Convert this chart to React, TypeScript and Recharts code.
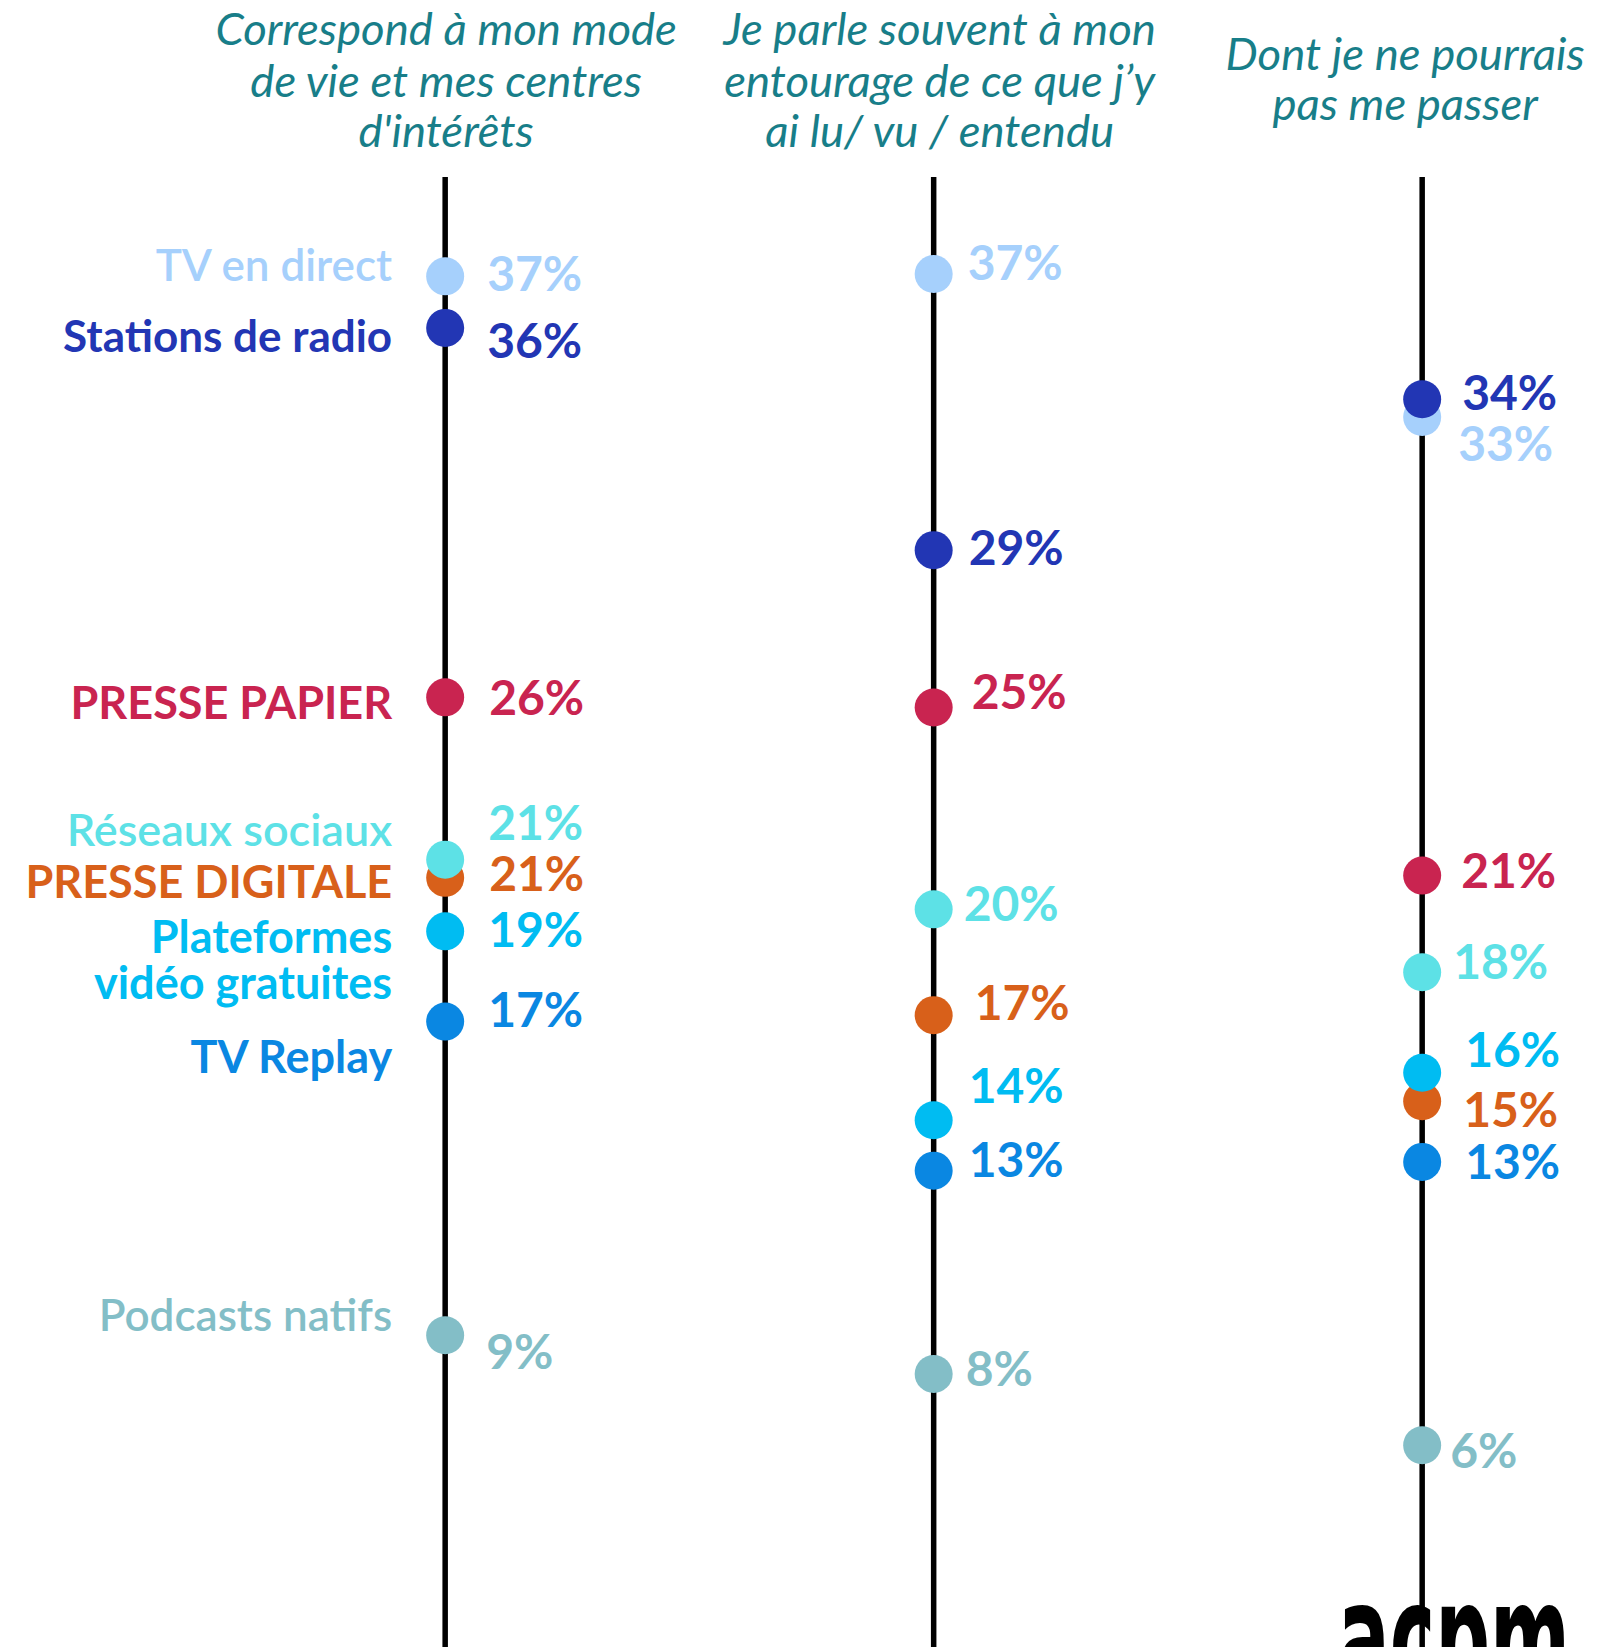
import React from 'react';
import { ScatterChart, Scatter, XAxis, YAxis, ReferenceLine } from 'recharts';

// ---------- DATA ----------
const columnIndex = [0, 1, 2];
const columnTitles = [
  ['Correspond à mon mode', 'de vie et mes centres', "d'intérêts"],
  ['Je parle souvent à mon', 'entourage de ce que j’y', 'ai lu/ vu / entendu'],
  ['Dont je ne pourrais', 'pas me passer'],
];

const media = [
  'TV en direct',
  'Stations de radio',
  'PRESSE PAPIER',
  'PRESSE DIGITALE',
  'Réseaux sociaux',
  'Plateformes vidéo gratuites',
  'TV Replay',
  'Podcasts natifs',
];
const mediaLines = [
  ['TV en direct'],
  ['Stations de radio'],
  ['PRESSE PAPIER'],
  ['PRESSE DIGITALE'],
  ['Réseaux sociaux'],
  ['Plateformes', 'vidéo gratuites'],
  ['TV Replay'],
  ['Podcasts natifs'],
];

// values (%); displayed labels are the rounded figures shown
const valuesCorrespond = [36.94, 35.58, 25.84, 21.08, 21.56, 19.67, 17.29, 9.02];
const valuesJeParle = [37.0, 29.72, 25.57, 17.46, 20.25, 14.69, 13.36, 8.0];
const valuesPasser = [33.23, 33.7, 21.14, 15.19, 18.59, 15.94, 13.59, 6.12];

const labelsCorrespond = ['37%', '36%', '26%', '21%', '21%', '19%', '17%', '9%'];
const labelsJeParle = ['37%', '29%', '25%', '17%', '20%', '14%', '13%', '8%'];
const labelsPasser = ['33%', '34%', '21%', '15%', '18%', '16%', '13%', '6%'];

const columnValues = [valuesCorrespond, valuesJeParle, valuesPasser];
const columnLabels = [labelsCorrespond, labelsJeParle, labelsPasser];

// ---------- STYLE / LAYOUT ----------
const colors = ['#a6d0fc', '#2236b4', '#c92450', '#d8601a', '#5de1e6', '#00bcf2', '#0a87e2', '#83bec7'];
const lighterWeight = [true, false, false, false, true, false, false, true];
const categorySizes = [44, 44, 45, 45, 45, 45, 45, 44];

// per column, per media: [dx, dy] of the percentage label relative to the dot
const labelNudges = [
  [[42, -3], [42, 13], [44, 0], [44, -4], [43, -37], [43, -2], [43, -12], [41, 17]],
  [[34, -11], [35, -2], [38, -16], [41, -12], [30, -6], [35, -34], [35, -11], [32, -5]],
  [[36, 27], [40, -6], [39, -5], [41, 9], [31, -10], [43, -23], [43, 0], [28, 6]],
];
// left category labels (first column): vertical offset of first line relative to the dot
const categoryNudges = [-11, 8, 6, 4, -30, 6, 35, -20];
const categoryGap = 53;
const titleNudges = [1, 6, -17];
const titleBaselines = [
  [45, 97, 147],
  [45, 97, 147],
  [70, 120],
];

const W = 1610;
const H = 1647;
const FONT = 'Lato, "Open Sans", sans-serif';
const PCT_SIZE = 48;

const seriesData = media.map((_, m) =>
  columnIndex.map((c) => ({ x: c, y: columnValues[c][m], label: columnLabels[c][m] }))
);

const makeShape = (m: number) => (props: any) => {
  const { cx, cy, payload } = props;
  if (cx == null || cy == null) return <g />;
  const col = payload.x as number;
  const [dx, dy] = labelNudges[col][m];
  const color = colors[m];
  const cs = categorySizes[m];
  return (
    <g>
      <circle cx={cx} cy={cy} r={19} fill={color} />
      <text
        x={cx + dx}
        y={cy + dy + PCT_SIZE * 0.358}
        fill={color}
        fontSize={PCT_SIZE}
        fontWeight={700}
        fontFamily={FONT}
      >
        {payload.label}
      </text>
      {col === 0 &&
        mediaLines[m].map((line, i) => (
          <text
            key={i}
            x={cx - categoryGap}
            y={cy + categoryNudges[m] + cs * 0.358 + i * 46}
            textAnchor="end"
            fill={color}
            fontSize={cs}
            fontWeight={lighterWeight[m] ? 600 : 700}
            fontFamily={FONT}
          >
            {line}
          </text>
        ))}
    </g>
  );
};

const TitleTick = (props: any) => {
  const { x, payload } = props;
  const c = Math.round(Number(payload?.value));
  const lines = columnTitles[c];
  if (!lines) return <g />;
  return (
    <g>
      {lines.map((line, i) => (
        <text
          key={i}
          x={x + titleNudges[c]}
          y={titleBaselines[c][i]}
          textAnchor="middle"
          fill="#187e89"
          fontSize={45.5}
          fontStyle="italic"
          fontFamily={FONT}
        >
          {line}
        </text>
      ))}
    </g>
  );
};

export default function App() {
  return (
    <div style={{ position: 'absolute', left: 0, top: 0, width: W, height: H, background: '#fff', overflow: 'hidden' }}>
      <svg width={W} height={H} style={{ position: 'absolute', left: 0, top: 0 }}>
        <text
          x={1338}
          y={1692}
          fontFamily='"DejaVu Sans", sans-serif'
          fontWeight={900}
          fontSize={155}
          textLength={232}
          lengthAdjust="spacingAndGlyphs"
          fill="#000"
        >
          acpm
        </text>
      </svg>
      <div style={{ position: 'absolute', left: 0, top: 0 }}>
        <ScatterChart width={W} height={H} margin={{ top: 0, right: 0, bottom: 0, left: 0 }}>
          <XAxis
            type="number"
            dataKey="x"
            orientation="top"
            domain={[-0.9113, 2.3845]}
            allowDataOverflow
            ticks={columnIndex}
            interval={0}
            height={1}
            axisLine={false}
            tickLine={false}
            tick={(p: any) => <TitleTick {...p} />}
          />
          <YAxis type="number" dataKey="y" domain={[0.8, 44.2]} allowDataOverflow hide width={0} />
          {columnIndex.map((c) => (
            <ReferenceLine
              key={`line-${c}`}
              segment={[
                { x: c, y: 39.56 },
                { x: c, y: 0.8 },
              ]}
              stroke="#000"
              strokeWidth={5.5}
              ifOverflow="visible"
            />
          ))}
          {media.map((name, m) => (
            <Scatter
              key={name}
              name={name}
              data={seriesData[m]}
              fill={colors[m]}
              isAnimationActive={false}
              shape={makeShape(m)}
            />
          ))}
        </ScatterChart>
      </div>
    </div>
  );
}
